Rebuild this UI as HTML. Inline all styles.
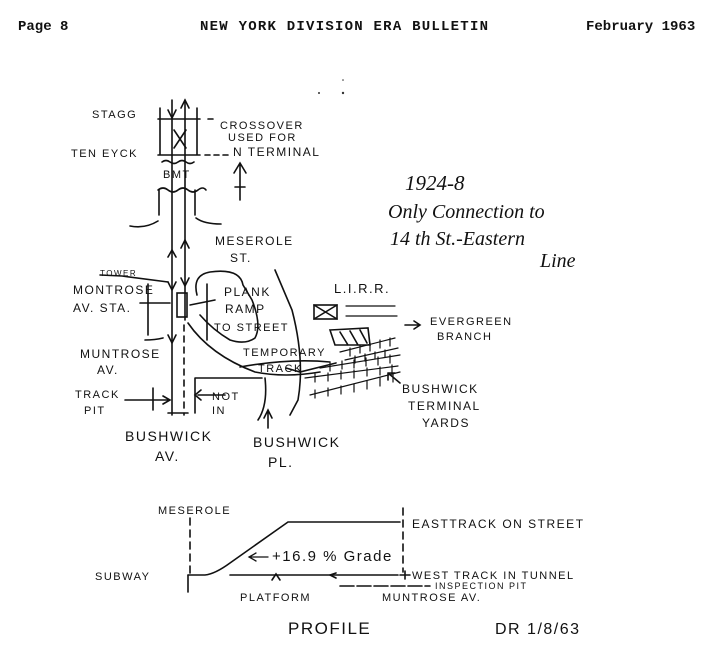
<!DOCTYPE html>
<html><head><meta charset="utf-8"><style>
html,body{margin:0;padding:0;background:#fff;}
svg{display:block}
.m{font-family:"Liberation Mono",monospace;font-weight:bold;font-size:14px;fill:#111}
.h{font-family:"Liberation Sans",sans-serif;fill:#111;letter-spacing:1.5px}
.c{font-family:"Liberation Serif",serif;font-style:italic;fill:#111}
</style></head><body>
<svg width="703" height="654" viewBox="0 0 703 654" xmlns="http://www.w3.org/2000/svg">
<text class="m" x="18" y="30">Page 8</text>
<text class="m" x="200" y="30" textLength="288" lengthAdjust="spacing">NEW YORK DIVISION ERA BULLETIN</text>
<text class="m" x="586" y="30">February 1963</text>

<g stroke="#111" stroke-width="1.6" fill="none" stroke-linecap="round">
<path d="M160 108 V155 M197 108 V155 M158 119 H200 M158 155 H200"/>
<path d="M208 119 H213 M205 155 H230" stroke-dasharray="5 4"/>
<path d="M174 130 L186 148 M186 130 L174 148"/>
<path d="M172 100 V415 M185 100 V320"/>
<path d="M184 325 V415" stroke-dasharray="6 5"/>
<path d="M168 110 L172 118 L176 110 M181 108 L185 100 L189 108"/>
<path d="M168 257 L172 250 L176 257 M181 248 L185 240 L189 248"/>
<path d="M168 282 L172 290 L176 282 M181 278 L185 286 L189 278"/>
<path d="M168 335 L172 343 L176 335"/>
<path d="M168 413 H188"/>
<path d="M162 162 q4 -3 8 0 t8 0 t8 0 t8 0"/>
<path d="M158 190 q5 -4 10 0 t10 0 t10 0 t10 0 t8 0"/>
<path d="M159 190 V215 M195 190 V215"/>
<path d="M130 226 q15 3 28 -5 M196 218 q8 6 25 6"/>
<path d="M240 200 V165 M234 173 L240 163 L246 173 M235 187 H245"/>
<path d="M148 284 V335 M207 284 V340"/>
<path d="M140 303 H170"/>
<rect x="177" y="293" width="10" height="24"/>
<path d="M190 305 L215 300"/>
<path d="M145 340 q10 0 18 -2"/>
<path d="M100 275 L122 276 L168 282"/>
<path d="M197 295 Q192 275 210 272 Q240 268 243 285 L252 300 Q262 325 255 338 Q245 345 230 340 Q213 330 200 315"/>
<path d="M188 323 Q210 355 255 372 Q285 378 320 372"/>
<path d="M275 270 L292 310 Q305 360 298 400 L290 415"/>
<path d="M265 378 Q268 405 258 420"/>
<path d="M195 378 V413 M195 378 H262"/>
<path d="M198 395 H225 M201 390 L195 395 L201 400"/>
<path d="M125 400 H170 M163 396 L170 400 L163 404 M153 388 V410"/>
<path d="M268 428 V412 M264 418 L268 410 L272 418"/>
<path d="M240 367 Q290 358 330 362"/>
<path d="M286 368 L300 372 L336 363"/>
<rect x="314" y="305" width="23" height="14"/>
<path d="M314 305 L337 319 M337 305 L314 319"/>
<path d="M346 306 H395 M346 316 H397" stroke-width="1.2"/>
<path d="M330 330 L368 328 L370 345 L335 345 Z M340 332 L348 345 M350 331 L358 345 M360 330 L367 343"/>
<path d="M405 325 H420 M414 321 L420 325 L414 329"/>
<g stroke-width="1.2">
<path d="M340 352 L395 338 M345 360 L398 348 M320 368 L400 355 M305 378 L398 366 M310 395 L400 372"/>
<path d="M350 348 v8 M360 345 v8 M370 343 v8 M380 340 v8 M390 338 v8 M355 356 v7 M365 354 v7 M375 352 v7 M385 350 v7 M330 363 v8 M342 361 v8 M354 360 v8 M366 358 v8 M378 357 v8 M390 355 v8 M315 374 v8 M328 373 v8 M341 371 v8 M354 370 v8 M367 368 v8 M380 367 v8 M392 365 v8 M315 390 v8 M328 388 v8 M341 386 v8 M354 384 v8 M367 381 v8 M380 378 v8 M393 374 v8"/>
</g>
<path d="M400 383 L388 373 M388 373 V380 M388 373 H395"/>
<path d="M190 518 V578" stroke-dasharray="7 5"/>
<path d="M188 575 V592"/>
<path d="M188 575 H205 Q215 574 230 563 L288 522 H400"/>
<path d="M230 575 H398"/>
<path d="M403 508 V572" stroke-dasharray="7 5"/>
<path d="M400 575 H410 M405 571 V579"/>
<path d="M340 586 H430" stroke-dasharray="14 3"/>
<path d="M250 557 H268 M256 553 L249 557 L256 561" stroke-width="1.3"/>
<path d="M272 580 L276 574 L280 580 M336 578 L330 575 L336 573"/>
</g>

<g class="h">
<text x="92" y="118" font-size="11">STAGG</text>
<text x="220" y="129" font-size="11">CROSSOVER</text>
<text x="228" y="141" font-size="11">USED FOR</text>
<text x="233" y="156" font-size="12">N  TERMINAL</text>
<text x="71" y="157" font-size="11">TEN EYCK</text>
<text x="163" y="178" font-size="11">BMT</text>
<text x="215" y="245" font-size="12">MESEROLE</text>
<text x="230" y="262" font-size="12">ST.</text>
<text x="100" y="276" font-size="8">TOWER</text>
<text x="73" y="294" font-size="12">MONTROSE</text>
<text x="73" y="312" font-size="12">AV. STA.</text>
<text x="224" y="296" font-size="12">PLANK</text>
<text x="225" y="313" font-size="12">RAMP</text>
<text x="214" y="331" font-size="11">TO STREET</text>
<text x="334" y="293" font-size="13">L.I.R.R.</text>
<text x="430" y="325" font-size="11">EVERGREEN</text>
<text x="437" y="340" font-size="11">BRANCH</text>
<text x="80" y="358" font-size="12">MUNTROSE</text>
<text x="97" y="374" font-size="12">AV.</text>
<text x="243" y="356" font-size="11">TEMPORARY</text>
<text x="258" y="372" font-size="11">TRACK</text>
<text x="75" y="398" font-size="11">TRACK</text>
<text x="84" y="414" font-size="11">PIT</text>
<text x="212" y="400" font-size="11">NOT</text>
<text x="212" y="414" font-size="11">IN</text>
<text x="402" y="393" font-size="12">BUSHWICK</text>
<text x="408" y="410" font-size="12">TERMINAL</text>
<text x="422" y="427" font-size="12">YARDS</text>
<text x="125" y="441" font-size="14">BUSHWICK</text>
<text x="155" y="461" font-size="14">AV.</text>
<text x="253" y="447" font-size="14">BUSHWICK</text>
<text x="268" y="467" font-size="14">PL.</text>
<text x="158" y="514" font-size="11">MESEROLE</text>
<text x="412" y="528" font-size="12">EASTTRACK ON STREET</text>
<text x="95" y="580" font-size="11">SUBWAY</text>
<text x="412" y="579" font-size="11">WEST TRACK IN TUNNEL</text>
<text x="435" y="589" font-size="9">INSPECTION PIT</text>
<text x="240" y="601" font-size="11">PLATFORM</text>
<text x="382" y="601" font-size="11">MUNTROSE AV.</text>
<text x="288" y="634" font-size="17">PROFILE</text>
<text x="495" y="634" font-size="16">DR  1/8/63</text>
</g>
<text class="h" x="272" y="561" font-size="15" letter-spacing="0">+16.9 % Grade</text>

<g class="c">
<text x="405" y="190" font-size="21">1924-8</text>
<text x="388" y="218" font-size="20">Only Connection to</text>
<text x="390" y="245" font-size="20">14 th St.-Eastern</text>
<text x="540" y="267" font-size="20">Line</text>
</g>
<g fill="#333"><circle cx="343" cy="93" r="1.2"/><circle cx="319" cy="93" r="1"/><circle cx="343" cy="80" r="0.8"/></g>
</svg>
</body></html>
